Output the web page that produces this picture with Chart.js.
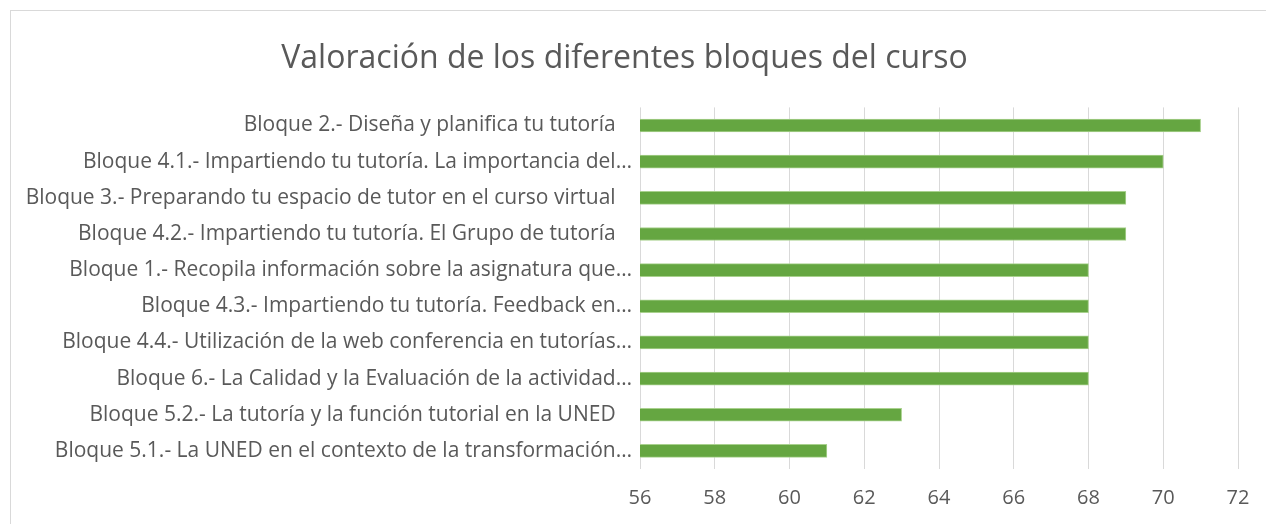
<!DOCTYPE html>
<html>
<head>
<meta charset="utf-8">
<script src="https://cdn.jsdelivr.net/npm/chart.js@4/dist/chart.umd.min.js"></script>
<style>
  html, body { margin: 0; padding: 0; background: #fff; overflow: hidden; }
  #box {
    position: absolute; left: 10px; top: 10px;
    width: 1300px; height: 560px;
    border: 1px solid #d9d9d9; box-sizing: border-box;
  }
  #wrap { position: absolute; left: 0; top: 0; width: 1264px; height: 513px; }
</style>
</head>
<body>
<div id="box"><div id="wrap"><canvas id="chart"></canvas></div></div>
<script>
const titleText = "Valoración de los diferentes bloques del curso";

const categories = [
  "Bloque 2.- Diseña y planifica tu tutoría   ",
  "Bloque 4.1.- Impartiendo tu tutoría. La importancia del…",
  "Bloque 3.- Preparando tu espacio de tutor en el curso virtual   ",
  "Bloque 4.2.- Impartiendo tu tutoría. El Grupo de tutoría   ",
  "Bloque 1.- Recopila información sobre la asignatura que…",
  "Bloque 4.3.- Impartiendo tu tutoría. Feedback en…",
  "Bloque 4.4.- Utilización de la web conferencia en tutorías…",
  "Bloque 6.- La Calidad y la Evaluación de la actividad…",
  "Bloque 5.2.- La tutoría y la función tutorial en la UNED   ",
  "Bloque 5.1.- La UNED en el contexto de la transformación…"
];

const values = [71, 70, 69, 69, 68, 68, 68, 68, 63, 61];

const xMin = 56;
const xMax = 72;
const xStep = 2;

const textColor = "#595959";
const gridColor = "#d9d9d9";

new Chart(document.getElementById("chart"), {
  type: "bar",
  data: {
    labels: categories,
    datasets: [
      {
        data: values,
        backgroundColor: "#65a641",
        borderColor: "#a9d18e",
        borderWidth: 1,
        borderSkipped: false,
        barThickness: 13
      }
    ]
  },
  options: {
    indexAxis: "y",
    responsive: true,
    maintainAspectRatio: false,
    animation: false,
    layout: { padding: { left: 0, right: 37, top: 0, bottom: 0 } },
    plugins: {
      legend: { display: false },
      tooltip: { enabled: false },
      title: {
        display: true,
        text: titleText,
        color: textColor,
        font: { family: "Open Sans", size: 32, weight: "normal", lineHeight: 1.2 },
        padding: { top: 29, bottom: 29 }
      }
    },
    scales: {
      x: {
        min: xMin,
        max: xMax,
        ticks: {
          stepSize: xStep,
          color: textColor,
          padding: 17,
          font: { family: "Open Sans", size: 20 }
        },
        grid: { color: gridColor, lineWidth: 1, drawTicks: false },
        border: { display: false },
        afterFit(scale) { scale.height = 55; }
      },
      y: {
        ticks: {
          color: textColor,
          padding: 0,
          autoSkip: false,
          font: { family: "Open Sans", size: 21 }
        },
        grid: { display: false },
        border: { display: false },
        afterFit(scale) { scale.width = 629; }
      }
    }
  }
});
</script>
</body>
</html>
